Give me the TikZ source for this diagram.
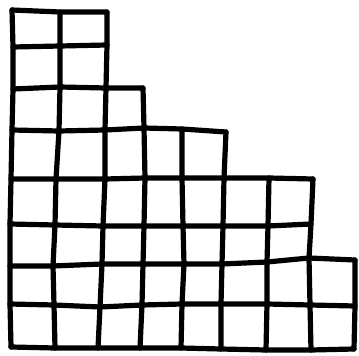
\documentclass[tikz,border=0pt]{standalone}
\begin{document}
\begin{tikzpicture}[x=1pt,y=-1pt,
  gridline/.style={line width=5.2pt,line join=round,line cap=round,black}]
\useasboundingbox (0,0) rectangle (359,356);
\foreach \i/\j/\x/\y in {
 0/0/12/10, 0/1/60/12, 0/2/107/12,
 1/0/13/47, 1/1/60/46, 1/2/107/45,
 2/0/13/89, 2/1/60/87, 2/2/106/88, 2/3/143/88,
 3/0/12/130, 3/1/59/131, 3/2/105/130, 3/3/144/128, 3/4/182/129, 3/5/226/132,
 4/0/11/179, 4/1/56/179, 4/2/105/179, 4/3/145/178, 4/4/182/178, 4/5/224/178, 4/6/269/178, 4/7/313/179,
 5/0/10/224, 5/1/55/225, 5/2/103/226, 5/3/144/226, 5/4/183/226, 5/5/223/226, 5/6/268/226, 5/7/311/224,
 6/0/10/266, 6/1/53/266, 6/2/102/264, 6/3/143/264, 6/4/184/264, 6/5/222/264, 6/6/267/262, 6/7/309/258, 6/8/355/260,
 7/0/10/304, 7/1/54/305, 7/2/100/307, 7/3/142/305, 7/4/182/304, 7/5/221/304, 7/6/267/304, 7/7/310/305, 7/8/355/306,
 8/0/11/347, 8/1/55/348, 8/2/98/348, 8/3/140/348, 8/4/181/348, 8/5/221/349, 8/6/266/350, 8/7/311/350, 8/8/354/349}
  \coordinate (v\i-\j) at (\x,\y);
% horizontal lines: row / last column
\foreach \i/\m in {0/2,1/2,2/3,3/5,4/7,5/7,6/8,7/8,8/8}
  \draw[gridline] (v\i-0) \foreach \j in {1,...,\m}{ -- (v\i-\j) };
% vertical lines: column / first row
\foreach \j/\t in {0/0,1/0,2/0,3/2,4/3,5/3,6/4,7/4,8/6}
  \draw[gridline] (v\t-\j) \foreach \i in {\t,...,8}{ -- (v\i-\j) };
\end{tikzpicture}
\end{document}
